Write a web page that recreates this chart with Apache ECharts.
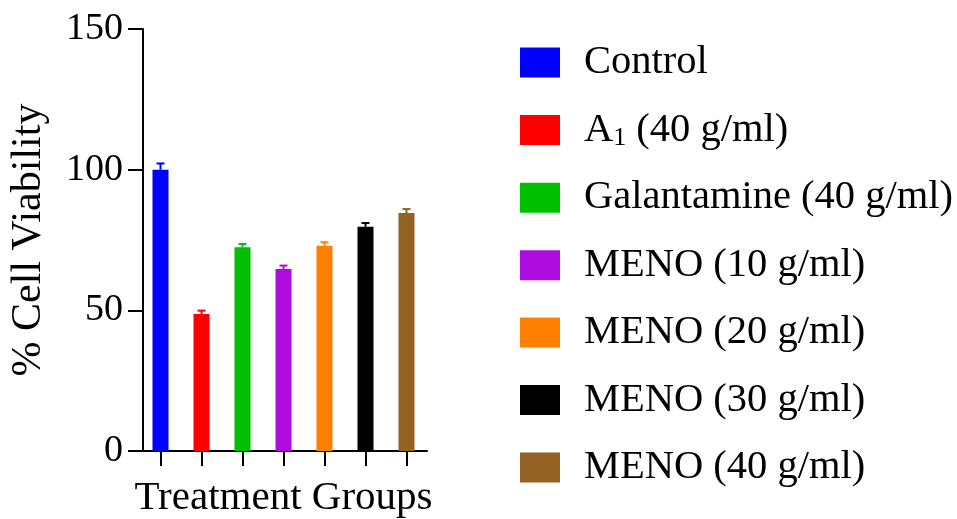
<!DOCTYPE html>
<html>
<head>
<meta charset="utf-8">
<script src="https://cdn.jsdelivr.net/npm/echarts@6/dist/echarts.min.js"></script>
<style>html,body{margin:0;padding:0;background:#fff;}#c{width:957px;height:519px;}</style>
</head>
<body>
<div id="c"></div>
<script>
const groups = ['Control', 'A1 (40 g/ml)', 'Galantamine (40 g/ml)', 'MENO (10 g/ml)', 'MENO (20 g/ml)', 'MENO (30 g/ml)', 'MENO (40 g/ml)'];
const viability = [100, 48.7, 72.4, 64.7, 73.0, 79.7, 84.6];
const errors = [2.2, 1.2, 1.2, 1.2, 1.2, 1.35, 1.4];
const colors = ['#0000FF', '#FF0000', '#00BF00', '#AD0BE0', '#FF8000', '#000000', '#936122'];
const yTicks = [0, 50, 100, 150];

const FONT = 'Liberation Serif';
const chart = echarts.init(document.getElementById('c'));

const barSeries = groups.map((g, i) => ({
  name: g,
  type: 'bar',
  barWidth: 16,
  barGap: '-100%',
  itemStyle: { color: colors[i] },
  data: groups.map((_, j) => j === i ? viability[i] : '-')
}));

const errSeries = {
  type: 'custom',
  silent: true,
  data: viability.map((v, i) => [i, v, errors[i]]),
  renderItem: function (params, api) {
    const i = api.value(0);
    const base = api.coord([i, api.value(1)]);
    const top = api.coord([i, api.value(1) + api.value(2)]);
    const c = colors[i];
    return {
      type: 'group',
      children: [
        { type: 'line', shape: { x1: base[0], y1: base[1], x2: top[0], y2: top[1] }, style: { stroke: c, lineWidth: 2 } },
        { type: 'line', shape: { x1: top[0] - 4, y1: top[1], x2: top[0] + 4, y2: top[1] }, style: { stroke: c, lineWidth: 2 } }
      ]
    };
  },
  z: 3
};

chart.setOption({
  animation: false,
  backgroundColor: '#ffffff',
  grid: { left: 140, top: 29, width: 287, bottom: 68, containLabel: false, outerBoundsMode: 'none' },
  legend: {
    orient: 'vertical',
    left: 520,
    top: 42,
    padding: 0,
    itemWidth: 40,
    itemHeight: 30,
    itemGap: 26.4,
    icon: 'rect',
    data: groups,
    formatter: function (name) {
      if (name.indexOf('A1') === 0) {
        return 'A{sub|1} (40 g/ml)';
      }
      return name;
    },
    textStyle: {
      fontFamily: FONT,
      fontSize: 40.5,
      color: '#000',
      padding: [0, 0, 0, 19],
      rich: {
        sub: { fontFamily: FONT, fontSize: 26, color: '#000', padding: [16, 0, 0, 0] }
      }
    }
  },
  xAxis: {
    type: 'category',
    data: groups,
    name: 'Treatment Groups',
    nameLocation: 'middle',
    nameGap: 27,
    nameTextStyle: { fontFamily: FONT, fontSize: 41, color: '#000' },
    axisLine: { show: true, lineStyle: { color: '#000', width: 2 } },
    axisTick: { show: true, alignWithLabel: true, length: 15, lineStyle: { color: '#000', width: 2 } },
    axisLabel: { show: true, color: 'rgba(0,0,0,0)', fontSize: 1, formatter: function () { return ''; } },
    splitLine: { show: false }
  },
  yAxis: {
    type: 'value',
    min: 0,
    max: 150,
    interval: 50,
    offset: -3,
    name: '% Cell Viability',
    nameLocation: 'middle',
    nameGap: 93,
    nameTextStyle: { fontFamily: FONT, fontSize: 42, color: '#000' },
    axisLine: { show: true, lineStyle: { color: '#000', width: 2 } },
    axisTick: { show: true, length: 15, lineStyle: { color: '#000', width: 2 } },
    axisLabel: {
      margin: 20,
      fontFamily: FONT,
      fontSize: 38,
      color: '#000',
      formatter: function (v) { return yTicks.indexOf(v) >= 0 ? String(v) : ''; }
    },
    splitLine: { show: false }
  },
  series: barSeries.concat([errSeries])
});
</script>
</body>
</html>
